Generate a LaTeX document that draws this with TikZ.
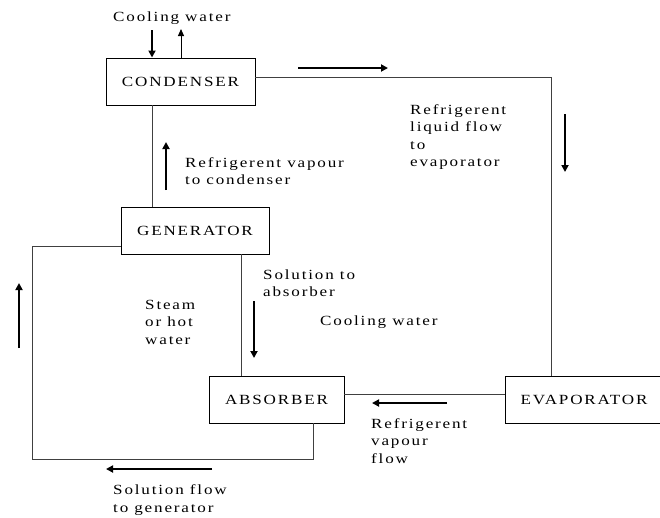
\documentclass[tikz,border=0pt]{standalone}
\usepackage{fontspec}
\setmainfont{Liberation Serif}[FakeStretch=1.22, LetterSpace=13]
\usetikzlibrary{arrows.meta}
\begin{document}
\begin{tikzpicture}[x=1pt,y=-1pt,
  unitbox/.style={draw=black, line width=0.9pt, inner sep=0pt, font=\fontsize{14}{17.5}\selectfont},
  pipe/.style={draw=black!75, line width=0.9pt},
  flow/.style={line width=1.9pt, -{Triangle[length=7pt,width=7pt]}},
  thinflow/.style={line width=1pt, -{Triangle[length=7pt,width=6pt]}},
  lbl/.style={anchor=base west, inner sep=0pt, align=left, font=\fontsize{14}{17.5}\selectfont}]
\clip (0,0) rectangle (660,517);
\fill[white] (0,0) rectangle (660,517);
% units
\node[unitbox, minimum width=149pt, minimum height=47pt] (cond) at (180.5,81.5) {CONDENSER};
\node[unitbox, minimum width=148pt, minimum height=47pt] (gen) at (195,230.5) {GENERATOR};
\node[unitbox, minimum width=135pt, minimum height=47pt] (abs) at (276.5,399.5) {ABSORBER};
\node[unitbox, minimum width=158pt, minimum height=47pt] (evap) at (584,399.5) {EVAPORATOR};
% connector coordinates
\coordinate (c1) at (551,77);
\coordinate (k1) at (152,0);
\coordinate (k2) at (241,0);
\coordinate (c3) at (32,246);
\coordinate (c4) at (32,459);
\coordinate (c5) at (313,459);
\coordinate (c6) at (0,394);
% connectors
\draw[pipe] (cond.east |- c1) -- (c1) -- (evap.north -| c1);
\draw[pipe] (cond.south -| k1) -- (gen.north -| k1);
\draw[pipe] (gen.south -| k2) -- (abs.north -| k2);
\draw[pipe] (gen.west |- c3) -- (c3) -- (c4) -- (c5) -- (abs.south -| c5);
\draw[pipe] (abs.east |- c6) -- (evap.west |- c6);
% flow arrows
\coordinate (cwi1) at (152,30); \coordinate (cwi2) at (152,57.5);
\coordinate (cwo1) at (181,58); \coordinate (cwo2) at (181,29);
\draw[flow] (cwi1) -- (cwi2);
\draw[thinflow] (cwo1) -- (cwo2);
\coordinate (a1s) at (298,68); \coordinate (a1e) at (388,68);
\draw[flow] (a1s) -- (a1e);
\coordinate (a2s) at (166,190); \coordinate (a2e) at (166,142);
\draw[flow] (a2s) -- (a2e);
\coordinate (a3s) at (565,114); \coordinate (a3e) at (565,172);
\draw[flow] (a3s) -- (a3e);
\coordinate (a4s) at (19,348); \coordinate (a4e) at (19,283);
\draw[flow] (a4s) -- (a4e);
\coordinate (a5s) at (254,301); \coordinate (a5e) at (254,358);
\draw[flow] (a5s) -- (a5e);
\coordinate (a6s) at (447,403); \coordinate (a6e) at (372,403);
\draw[flow] (a6s) -- (a6e);
\coordinate (a7s) at (212,469); \coordinate (a7e) at (106,469);
\draw[flow] (a7s) -- (a7e);
% labels (anchored at the baseline of the last line)
\node[lbl] (tcw) at (113,21) {Cooling water};
\node[lbl] (trv) at (185,184.5) {Refrigerent vapour\\to condenser};
\node[lbl] (trl) at (410,166.5) {Refrigerent\\liquid flow\\to\\evaporator};
\node[lbl] (tsa) at (263,296.5) {Solution to\\absorber};
\node[lbl] (tst) at (145,344) {Steam\\or hot\\water};
\node[lbl] (tcw2) at (320,325) {Cooling water};
\node[lbl] (trf) at (371,463) {Refrigerent\\vapour\\flow};
\node[lbl] (tsf) at (113,512) {Solution flow\\to generator};
\end{tikzpicture}
\end{document}
